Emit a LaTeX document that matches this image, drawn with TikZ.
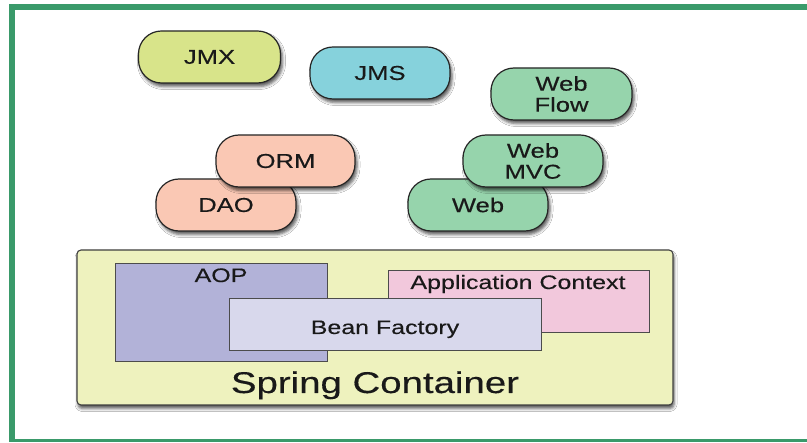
\documentclass[tikz,border=0pt]{standalone}
\usepackage{fontspec}
\setmainfont[FakeStretch=1.28,FakeBold=0.35]{Liberation Sans}
\usetikzlibrary{shadows.blur}
\definecolor{frameg}{RGB}{58,154,106}
\definecolor{jmxc}{RGB}{216,228,138}
\definecolor{jmsc}{RGB}{134,210,220}
\definecolor{webc}{RGB}{150,212,172}
\definecolor{ormc}{RGB}{250,200,180}
\definecolor{contc}{RGB}{238,242,190}
\definecolor{aopc}{RGB}{178,178,216}
\definecolor{appc}{RGB}{242,200,220}
\definecolor{beanc}{RGB}{216,216,236}
\definecolor{inkc}{RGB}{25,25,25}
\begin{document}
\begin{tikzpicture}[x=1pt,y=-1pt,
  pill/.style={draw=black!85, line width=1.2pt, rounded corners=23pt,
    minimum width=140pt, minimum height=52pt, inner sep=0pt, align=center,
    text=inkc, font=\fontsize{20}{21}\selectfont,
    blur shadow={shadow xshift=2pt, shadow yshift=-3.5pt, shadow blur radius=3pt, shadow opacity=65}},
  container/.style={draw=black!75, line width=1.1pt, rounded corners=4pt, fill=contc,
    minimum width=596pt, minimum height=155pt, inner sep=0pt,
    blur shadow={shadow xshift=1pt, shadow yshift=-3.5pt, shadow blur radius=3pt, shadow opacity=65}},
  inbox/.style={draw=black!70, line width=0.9pt, inner sep=0pt},
  lbl/.style={inner sep=0pt, anchor=base, text=inkc, font=\fontsize{19.5}{21}\selectfont},
  biglbl/.style={inner sep=0pt, anchor=base, text=inkc, font=\fontsize{30}{32}\selectfont}]
\useasboundingbox (0,0) rectangle (807,443);
\fill[white] (0,0) rectangle (807,443);
% pills
\node[pill, fill=jmxc, minimum width=142pt] (jmx) at (209.5,57) {JMX};
\node[pill, fill=jmsc] (jms) at (380,73) {JMS};
\node[pill, fill=webc, minimum width=141pt] (webflow) at (561.5,94) {Web\\Flow};
\node[pill, fill=ormc] (dao) at (226,205) {DAO};
\node[pill, fill=ormc, minimum width=139pt] (orm) at (285.5,161) {ORM};
\node[pill, fill=webc] (web) at (478,205) {Web};
\node[pill, fill=webc] (webmvc) at (533,161) {Web\\MVC};
% container
\node[container] (sc) at (375,327.5) {};
\node[inbox, fill=aopc, minimum width=212pt, minimum height=98pt] (aop) at (221,312) {};
\node[inbox, fill=appc, minimum width=261pt, minimum height=62pt] (app) at (518.5,301) {};
\node[inbox, fill=beanc, minimum width=312pt, minimum height=52pt] (bean) at (385,324) {};
\node[lbl] (aoplbl) at (221,282) {AOP};
\node[lbl] (applbl) at (518,289) {Application Context};
\node[lbl] (beanlbl) at (385,334) {Bean Factory};
\node[biglbl] (sclbl) at (375,393) {Spring Container};
% frame
\draw[frameg, line width=6pt, line join=miter] (810,7) -- (12,7) -- (12,442);
\draw[frameg, line width=3pt] (9,440.5) -- (810,440.5);
\end{tikzpicture}
\end{document}
